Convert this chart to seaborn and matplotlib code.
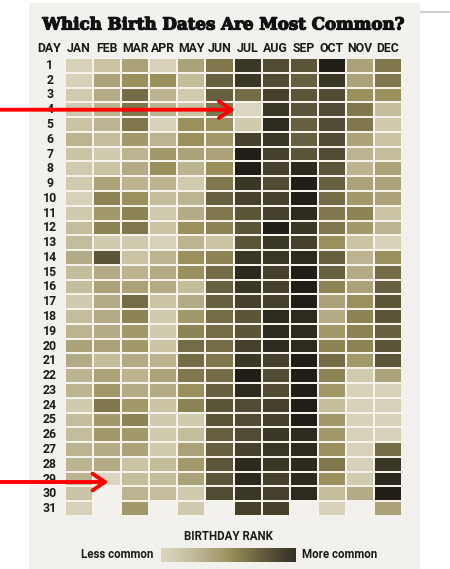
import matplotlib
matplotlib.use('Agg')
import matplotlib.pyplot as plt
import matplotlib.patheffects as pe
import numpy as np
import pandas as pd
import seaborn as sns
from matplotlib.colors import LinearSegmentedColormap
from matplotlib.patches import Rectangle
from matplotlib.lines import Line2D

sns.set_theme(style='white')
plt.rcParams['font.family'] = ['DejaVu Sans']

nan = np.nan

# Darkness of each day (0 = least common, 10 = most common)
months = ['JAN', 'FEB', 'MAR', 'APR', 'MAY', 'JUN', 'JUL', 'AUG', 'SEP', 'OCT', 'NOV', 'DEC']
days = list(range(1, 32))

jan = [1, 1, 1.5, 1.5, 2, 3, 2, 1.5, 1.5, 1, 1.5, 2.5, 2.5, 3.5, 2.5, 2.5, 1.5, 2.5, 3, 4,
       3.5, 3, 3, 1.5, 2.5, 2.5, 3, 3, 3, 2, 1]
feb = [2, 4, 3.5, 3, 3, 2.5, 1.5, 2, 4, 5.5, 4.5, 5.5, 1.5, 7.5, 3.5, 4, 3.5, 3.5, 3.5, 4,
       2.5, 4, 4.5, 6, 4.5, 4.5, 3.5, 3.5, 0.5, nan, nan]
mar = [4, 5, 6.5, 6, 6, 4.5, 3, 3.5, 3, 5, 5.5, 6, 1.5, 2, 3, 4, 6.5, 5.5, 4.5, 4.5,
       3.5, 3, 3.5, 4.5, 5.5, 4.5, 4, 2, 2.5, 3, 4.5]
apr = [1, 5, 3, 3, 1, 3, 4.5, 5, 3, 2.5, 1.5, 2, 1, 3, 3.5, 3.5, 2, 1.5, 1.5, 2,
       3, 4, 3.5, 2, 1.5, 1.5, 1.5, 2.5, 2.5, 2.5, nan]
may = [4, 2.5, 1.5, 2, 5, 5, 4, 3, 1.5, 3, 3.5, 5, 3, 5, 5, 2.5, 3.5, 4.5, 5.5, 6.5,
       6.5, 6, 5, 5.5, 1.5, 2.5, 4, 4.5, 4, 1.5, 1.5]
jun = [6, 7, 7, 6, 5, 4.5, 4, 5, 6, 7, 6, 5.5, 2, 5.5, 6.5, 7, 7, 6.5, 6.5, 6.5,
       6, 6.5, 7, 7.5, 7.5, 7, 7, 7.5, 7.5, 8, nan]
jul = [9, 9, 6.5, 0.5, 1.5, 8.5, 10, 10, 9, 8.5, 7.5, 7.5, 7.5, 9, 9.5, 9, 8.5, 7.5, 7.5, 8.5,
       9, 10, 9.5, 8, 8, 8, 8.5, 9.5, 9.5, 9, 8.5]
aug = [8, 8, 8.5, 9, 9.5, 9, 8.5, 8.5, 8, 8.5, 8.5, 10, 9, 9, 8.5, 8.5, 8.5, 9.5, 9.5, 9.5,
       8.5, 8, 8, 8.5, 8.5, 9, 9, 9, 8.5, 8.5, 8.5]
sep = [7.5, 7, 7.5, 7.5, 7, 7, 7.5, 9.5, 10, 10, 9.5, 9, 8.5, 9.5, 10, 10, 10, 9.5, 9.5, 9.5,
       10, 10, 10, 10, 10, 9.5, 9.5, 9.5, 9.5, 9.5, nan]
oct_ = [10, 9, 8, 8, 8, 8, 8, 7.5, 7, 6.5, 6, 6, 5, 7, 7, 5.5, 4, 3.5, 4.5, 5.5,
        6.5, 5.5, 4.5, 2.5, 4.5, 4.5, 5, 6, 5, 2.5, 1]
nov = [4, 4, 5, 6, 6, 4, 3, 3, 4, 4.5, 5.5, 4.5, 2, 3, 3.5, 4, 5, 5.5, 5.5, 5.5,
       4.5, 1.5, 1, 1, 1, 1, 1, 1, 1.5, 3.5, nan]
dec = [6, 6, 5, 2.5, 1.5, 2, 2.5, 4, 4, 4, 2, 3, 1, 5, 6.5, 7, 7.5, 7.5, 7, 7.5,
       7.5, 4, 1, 1, 1, 1, 6.5, 9, 9.5, 10, 4]

df = pd.DataFrame(dict(zip(months, [jan, feb, mar, apr, may, jun, jul, aug, sep, oct_, nov, dec])),
                  index=days)

# Olive-brown ramp from pale beige to near black
rank_cmap = LinearSegmentedColormap.from_list('rank', [
    (0.00, '#dedac8'), (0.10, '#d6d1b8'), (0.25, '#c4bd9c'), (0.40, '#aba27a'),
    (0.50, '#9a905d'), (0.60, '#80784c'), (0.70, '#676040'), (0.80, '#514b33'),
    (0.90, '#3b3727'), (1.00, '#211e17')])

panel = '#f3f1ee'
ink = '#1a1a1a'
label_font = ['Roboto', 'DejaVu Sans']
fig = plt.figure(figsize=(4.5, 5.69), dpi=100, facecolor='white')

# light panel behind the graphic, plus the thin grey rule at top right
fig.patches.append(Rectangle((29 / 450, 0), (420 - 29) / 450, 1 - 3 / 569,
                             transform=fig.transFigure, facecolor=panel, edgecolor='none',
                             zorder=-10))
fig.lines.append(Line2D([420 / 450, 1], [1 - 12 / 569] * 2, transform=fig.transFigure,
                       color='#cfcfcf', lw=1.5, zorder=-10))

ax = fig.add_axes([65 / 450, 1 - 516 / 569, (402 - 65) / 450, (516 - 58) / 569])
ax.set_facecolor(panel)
sns.heatmap(df, ax=ax, cmap=rank_cmap, vmin=0, vmax=10, cbar=False,
            linewidths=1.2, linecolor='#f6f4ea', square=False,
            xticklabels=months, yticklabels=[str(d) for d in days])

ax.xaxis.tick_top()
ax.tick_params(length=0)
plt.setp(ax.get_xticklabels(), fontsize=8.8, fontweight='bold', color=ink, rotation=0,
         family=label_font)
ax.tick_params(axis='x', pad=2)
plt.setp(ax.get_yticklabels(), rotation=0, fontsize=8.8, fontweight='bold',
         color=ink, ha='center', family=label_font)
ax.tick_params(axis='y', pad=11)
ax.set_xlabel('')
ax.set_ylabel('')
for s in ax.spines.values():
    s.set_visible(False)

fig.text(49 / 450, 1 - 48 / 569, 'DAY', ha='center', va='center', fontsize=8.8,
         fontweight='bold', color=ink, family=label_font)

# Title (heavy slab look)
fig.text(223 / 450, 1 - 25 / 569, 'Which Birth Dates Are Most Common?', ha='center', va='center',
         fontsize=12, fontweight='bold', family='DejaVu Serif', color='#111111',
         path_effects=[pe.withStroke(linewidth=0.9, foreground='#111111')])

# Red arrows pointing at July 4 and February 29
arrow_props = dict(arrowstyle='->,head_length=0.75,head_width=0.5', color='#ff0000', lw=2.8,
                   shrinkA=0, shrinkB=0)
ax.annotate('', xy=(months.index('JUL') + 0.05, days.index(4) + 0.5),
            xytext=(0, days.index(4) + 0.5), textcoords=('figure fraction', 'data'),
            arrowprops=arrow_props, annotation_clip=False)
ax.annotate('', xy=(months.index('FEB') + 0.55, days.index(29) + 0.7),
            xytext=(0, days.index(29) + 0.7), textcoords=('figure fraction', 'data'),
            arrowprops=arrow_props, annotation_clip=False)

# Legend: gradient bar
fig.text(228 / 450, 1 - 536 / 569, 'BIRTHDAY RANK', ha='center', va='center', fontsize=8.3,
         fontweight='bold', color=ink, family=label_font)
cax = fig.add_axes([161 / 450, 1 - 562 / 569, (296 - 161) / 450, 14 / 569])
cax.imshow(np.linspace(0.05, 0.93, 256)[None, :], aspect='auto', cmap=rank_cmap, vmin=0, vmax=1)
cax.set_axis_off()
fig.text(153 / 450, 1 - 555 / 569, 'Less common', ha='right', va='center', fontsize=8.3,
         fontweight='bold', color=ink, family=label_font)
fig.text(302 / 450, 1 - 555 / 569, 'More common', ha='left', va='center', fontsize=8.3,
         fontweight='bold', color=ink, family=label_font)

fig.savefig('out.png', dpi=100, facecolor='white')
